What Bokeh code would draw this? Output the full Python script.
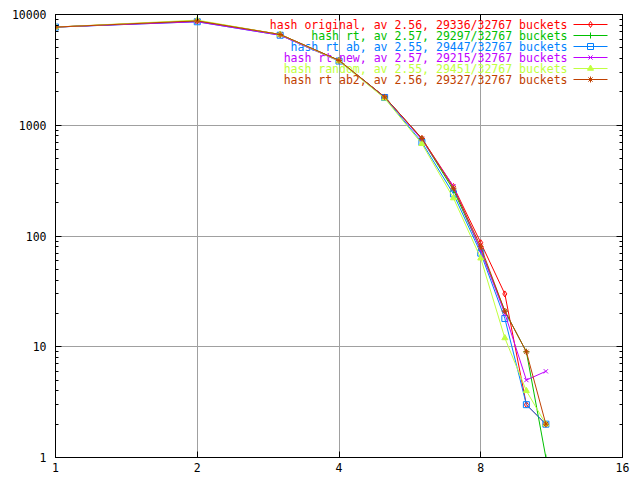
from bokeh.plotting import figure
from bokeh.models import Range1d, FixedTicker, LogAxis, PrintfTickFormatter, CustomJSTickFormatter
from bokeh.core.properties import value
from bokeh.embed import file_html
from bokeh.resources import INLINE

# ---- data ----
chain_len = [1, 2, 3, 4, 5, 6, 7, 8, 9, 10, 11]
orig   = [7700, 8800, 6600, 3850, 1800, 760, 280, 87, 30, 3, 2]
rt     = [7700, 8700, 6600, 3850, 1800, 750, 260, 75, 21, 9, 1]
rt_ab  = [7700, 8600, 6500, 3800, 1780, 700, 240, 70, 18, 3, 2]
rt_new = [7700, 8600, 6500, 3800, 1800, 740, 280, 74, 20, 5, 6]
rand   = [7700, 8900, 6600, 3800, 1750, 680, 220, 63, 12, 4, 2]
rt_ab2 = [7700, 8750, 6600, 3850, 1800, 760, 270, 80, 21, 9, 2]

labels = [
    "hash original, av 2.56, 29336/32767 buckets",
    "hash rt, av 2.57, 29297/32767 buckets",
    "hash rt ab, av 2.55, 29447/32767 buckets",
    "hash rt new, av 2.57, 29215/32767 buckets",
    "hash random, av 2.55, 29451/32767 buckets",
    "hash rt ab2, av 2.56, 29327/32767 buckets",
]
series = [orig, rt, rt_ab, rt_new, rand, rt_ab2]
colors = ["#ff0000", "#00c000", "#0080ff", "#c000ff", "#c0ff40", "#c04000"]
markers = ["diamond", "cross", "square", "x", "triangle", "asterisk"]
x_ticks = [1, 2, 4, 8, 16]
y_ticks = [1, 10, 100, 1000, 10000]
y_minor = [m * d for d in [1, 10, 100, 1000] for m in range(2, 10)]

FONT = "DejaVu Sans Mono"

# frame geometry (page px): left 55, right 622, top 14, bottom 457
FX0, FX1, FY0, FY1 = 55, 622, 14, 457

def px_to_x(px):
    return 2 ** ((px - FX0) / (FX1 - FX0) * 4)

def py_to_y(py):
    return 10 ** ((FY1 - py) / (FY1 - FY0) * 4)

p = figure(
    x_axis_type="log", y_axis_type="log",
    x_range=Range1d(1, 16), y_range=Range1d(1, 10000),
    frame_width=FX1 - FX0, frame_height=FY1 - FY0,
    min_border_left=FX0, min_border_top=FY0, min_border_right=10, min_border_bottom=20,
    output_backend="svg", toolbar_location=None,
)
p.background_fill_color = "white"
p.border_fill_color = "white"
p.outline_line_color = "black"
p.outline_line_width = 1

xt = FixedTicker(ticks=x_ticks, minor_ticks=[])
yt = FixedTicker(ticks=y_ticks, minor_ticks=y_minor)

for ax, tk in ((p.xaxis[0], xt), (p.yaxis[0], yt)):
    ax.ticker = tk
    ax.formatter = PrintfTickFormatter(format="%d")
    ax.axis_line_color = "black"
    ax.major_tick_in = 6
    ax.major_tick_out = 0
    ax.minor_tick_in = 3
    ax.minor_tick_out = 0
    ax.major_tick_line_color = "black"
    ax.minor_tick_line_color = "black"
    ax.major_label_text_font = FONT
    ax.major_label_text_font_size = "11.5px"
    ax.major_label_text_color = "black"
p.xaxis.major_label_standoff = 5
p.yaxis.major_label_standoff = 9

blank = CustomJSTickFormatter(code="return ''")
for side, tk in (("right", yt), ("above", xt)):
    a = LogAxis(ticker=tk, formatter=blank, major_tick_in=6, major_tick_out=0,
                minor_tick_in=3, minor_tick_out=0, major_label_standoff=0,
                major_label_text_font_size="1px", axis_line_color="black")
    p.add_layout(a, side)

p.xgrid.ticker = xt
p.ygrid.ticker = yt
p.xgrid.grid_line_color = "#a0a0a0"
p.ygrid.grid_line_color = "#a0a0a0"
p.xgrid.minor_grid_line_color = None
p.ygrid.minor_grid_line_color = None

for i, (ys, c, m, lab) in enumerate(zip(series, colors, markers, labels)):
    p.line(chain_len, ys, line_color=c, line_width=1)
    fill = c if m == "triangle" else None
    p.scatter(chain_len, ys, marker=m, size=6, line_color=c, fill_color=fill, line_width=1)
    # legend entry (gnuplot style: text right-aligned, sample on the right)
    py = 24 + 11 * i
    yv = py_to_y(py)
    p.text(x=[px_to_x(567)], y=[yv], text=[lab], text_align="right", text_baseline="middle",
           text_font=value(FONT), text_font_size="11.5px", text_color=c)
    p.line([px_to_x(573), px_to_x(607)], [yv, yv], line_color=c, line_width=1)
    p.scatter([px_to_x(590)], [yv], marker=m, size=6, line_color=c, fill_color=fill, line_width=1)

open("out.html", "w").write(file_html(p, INLINE))
